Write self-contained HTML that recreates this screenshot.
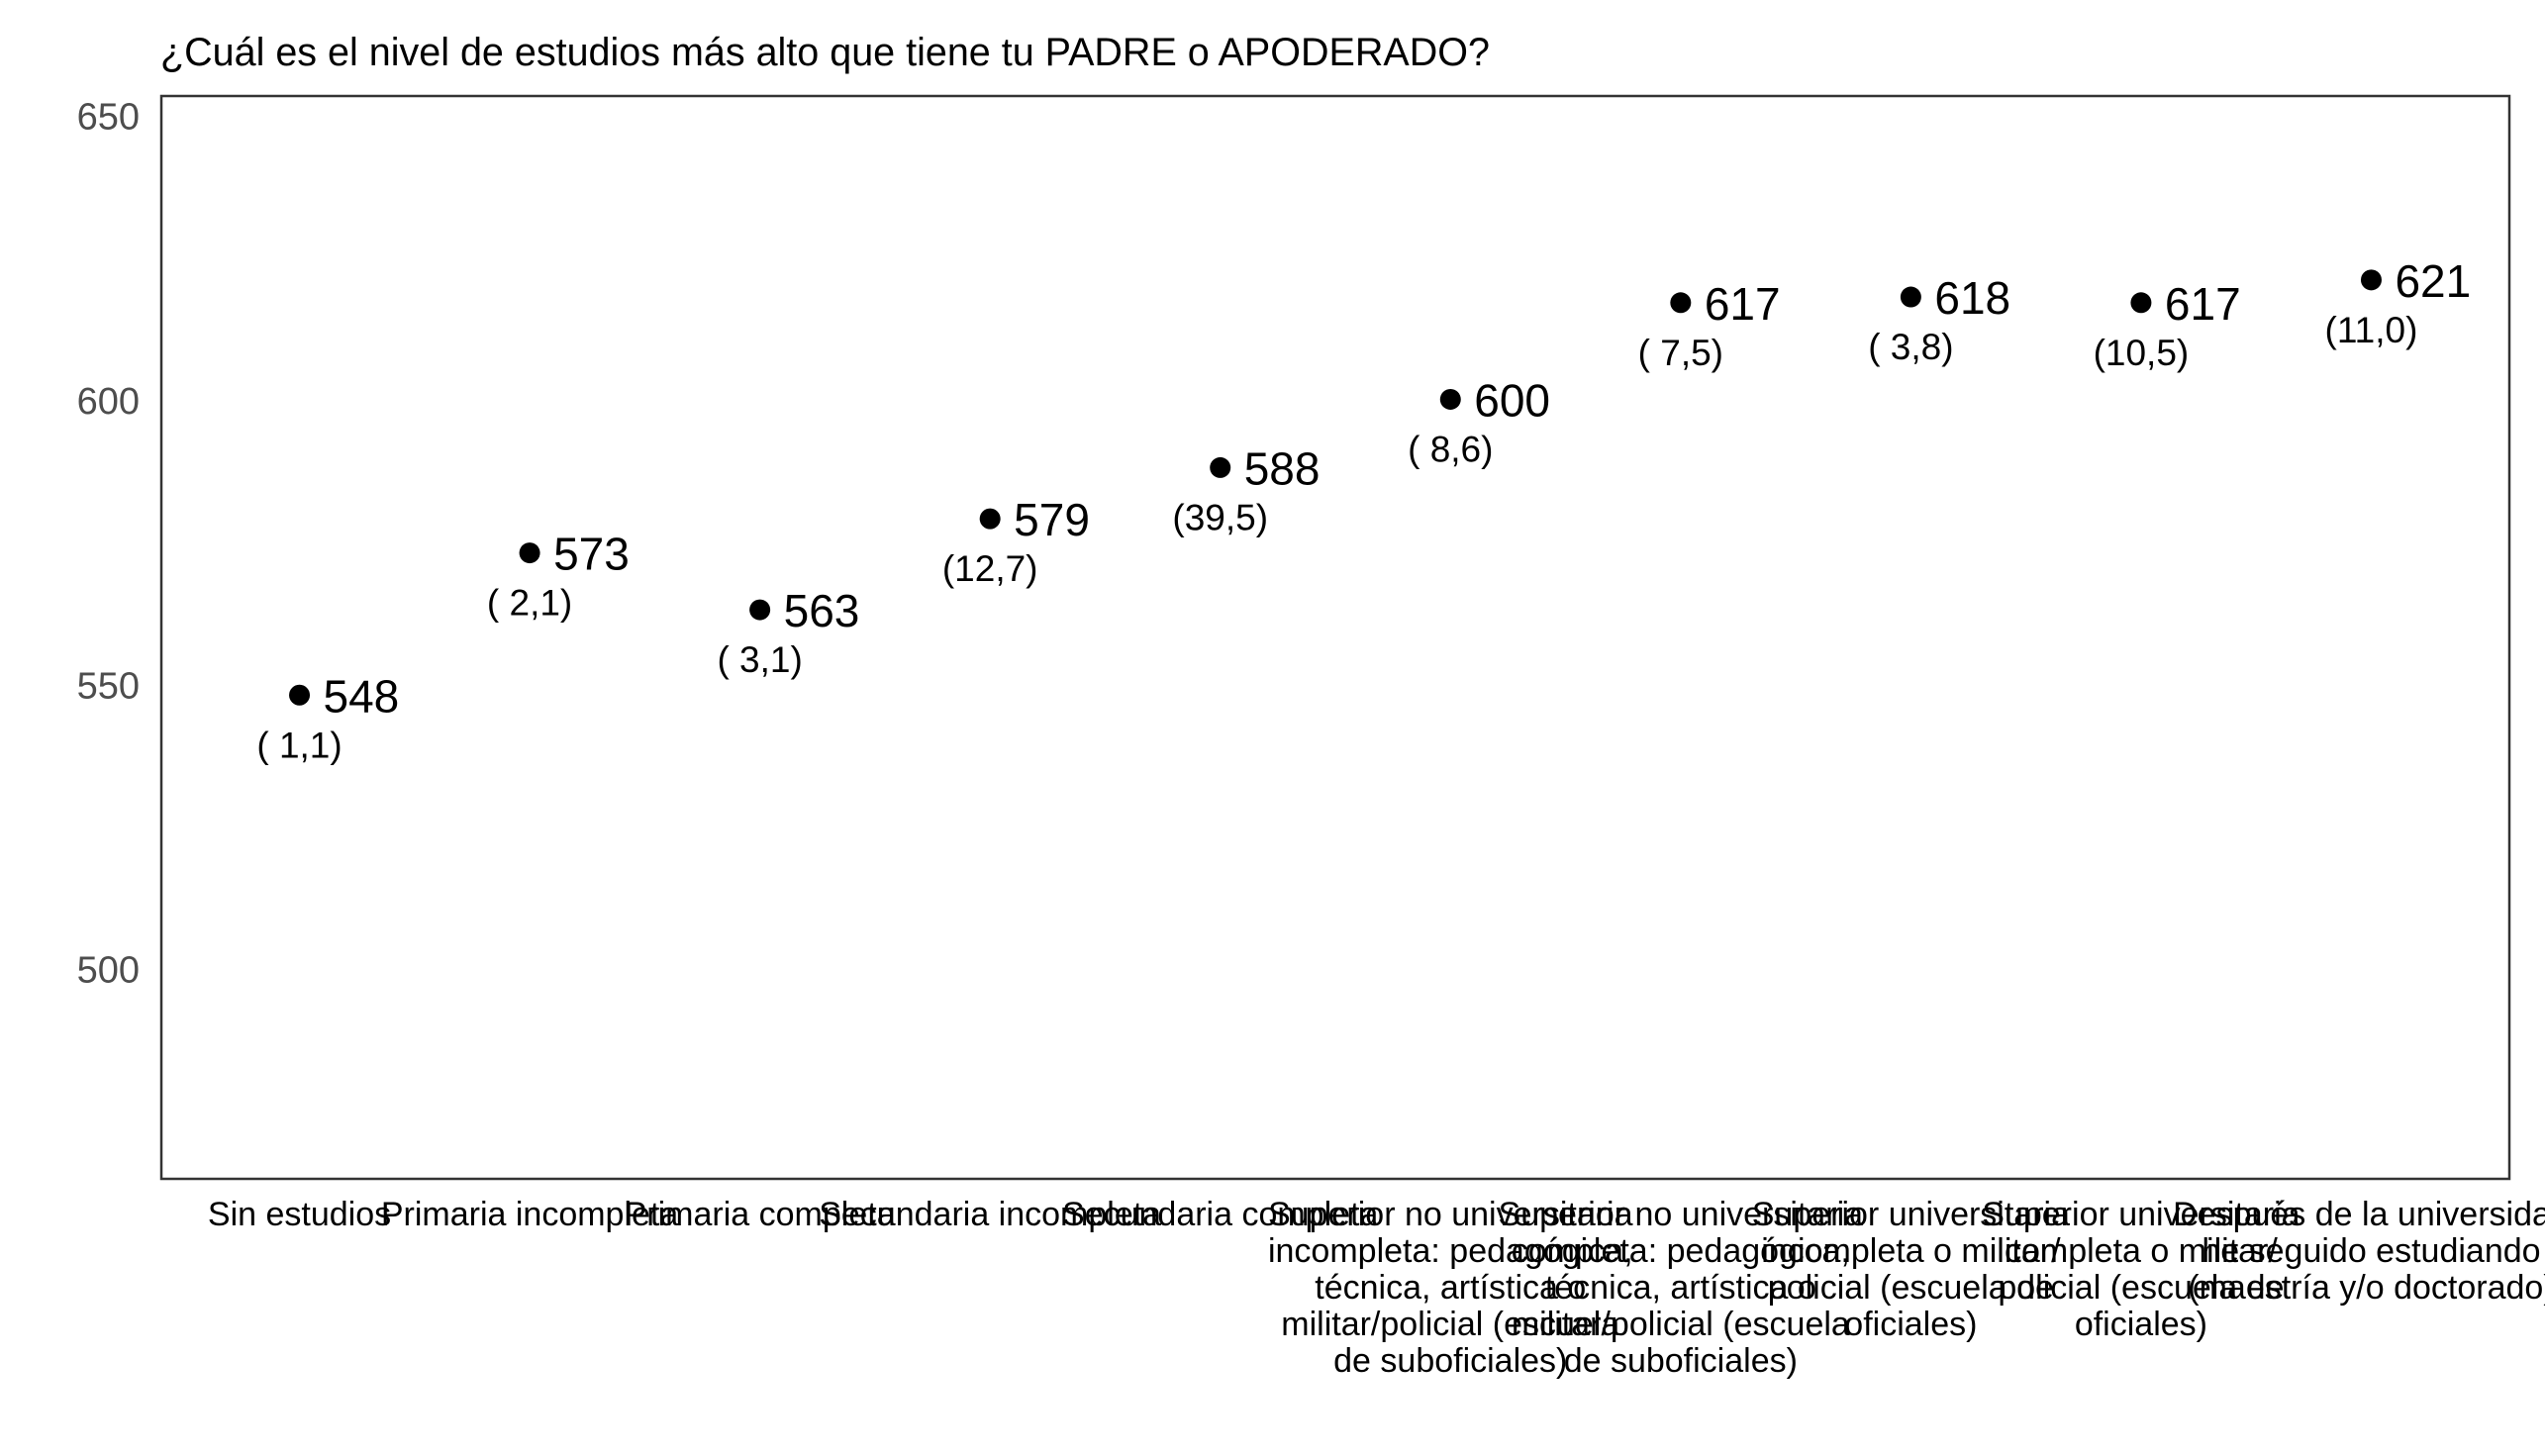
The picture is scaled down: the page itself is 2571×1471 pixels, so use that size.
<!DOCTYPE html>
<html><head><meta charset="utf-8"><style>
html,body{margin:0;padding:0;background:#fff;}
svg{display:block;font-family:"Liberation Sans",Arial,sans-serif;}
</style></head><body>
<svg id="chart" width="2571" height="1471" viewBox="0 0 2571 1471" xmlns="http://www.w3.org/2000/svg">
<rect x="0" y="0" width="2571" height="1471" fill="#fff"/>
<text x="162" y="66" font-size="39.5" fill="#000">¿Cuál es el nivel de estudios más alto que tiene tu PADRE o APODERADO?</text>
<rect x="163" y="97" width="2372" height="1094" fill="none" stroke="#333" stroke-width="2.5"/>
<g id="yaxis"></g>
<g id="xaxis"></g>
<g id="marks"></g>
</svg>
<script>
const categories = [
  ["Sin estudios"],
  ["Primaria incompleta"],
  ["Primaria completa"],
  ["Secundaria incompleta"],
  ["Secundaria completa"],
  ["Superior no universitaria","incompleta: pedagógica,","técnica, artística o","militar/policial (escuela","de suboficiales)"],
  ["Superior no universitaria","completa: pedagógica,","técnica, artística o","militar/policial (escuela","de suboficiales)"],
  ["Superior universitaria","incompleta o militar/","policial (escuela de","oficiales)"],
  ["Superior universitaria","completa o militar/","policial (escuela de","oficiales)"],
  ["Después de la universidad","he seguido estudiando","(maestría y/o doctorado)"]
];
const scores = [548, 573, 563, 579, 588, 600, 617, 618, 617, 621];
const percents = ["( 1,1)", "( 2,1)", "( 3,1)", "(12,7)", "(39,5)", "( 8,6)", "( 7,5)", "( 3,8)", "(10,5)", "(11,0)"];
const yTicks = [500, 550, 600, 650];

const NS = "http://www.w3.org/2000/svg";
const px0 = 163, px1 = 2535, py0 = 97, py1 = 1191;
const yMin = 463.2, yMax = 653.6;
function xScale(i){ return px0 + (i + 0.6) * (px1 - px0) / (categories.length - 1 + 1.2); }
function yScale(v){ return py1 - (v - yMin) / (yMax - yMin) * (py1 - py0); }
function mk(tag, attrs, parent){ const e = document.createElementNS(NS, tag); for (const k in attrs) e.setAttribute(k, attrs[k]); parent.appendChild(e); return e; }

const yaxis = document.getElementById('yaxis');
yTicks.forEach(t => {
  const e = mk('text', {x: 141, y: yScale(t) + 13, 'text-anchor': 'end', 'font-size': 38, fill: '#4d4d4d'}, yaxis);
  
  
  e.textContent = t;
});

const xaxis = document.getElementById('xaxis');
categories.forEach((lines, i) => {
  const e = mk('text', {x: xScale(i), y: 1238, 'text-anchor': 'middle', 'font-size': 34, fill: '#000'}, xaxis);
  
  
  lines.forEach((l, j) => {
    const s = mk('tspan', {x: xScale(i), dy: j === 0 ? 0 : 37}, e);
    s.textContent = l;
  });
});

const marks = document.getElementById('marks');
scores.forEach((v, i) => {
  const cx = xScale(i), cy = yScale(v) - 1.5;
  const c = mk('circle', {cx: cx, cy: cy, r: 10.5, fill: '#000'}, marks);
  
  
  const t = mk('text', {x: cx + 24, y: cy + 17, 'font-size': 46, fill: '#000'}, marks);
  
  
  t.textContent = v;
  const p = mk('text', {x: cx, y: cy + 63, 'text-anchor': 'middle', 'font-size': 37, fill: '#000'}, marks);
  
  
  p.textContent = percents[i];
});
</script>
</body></html>
